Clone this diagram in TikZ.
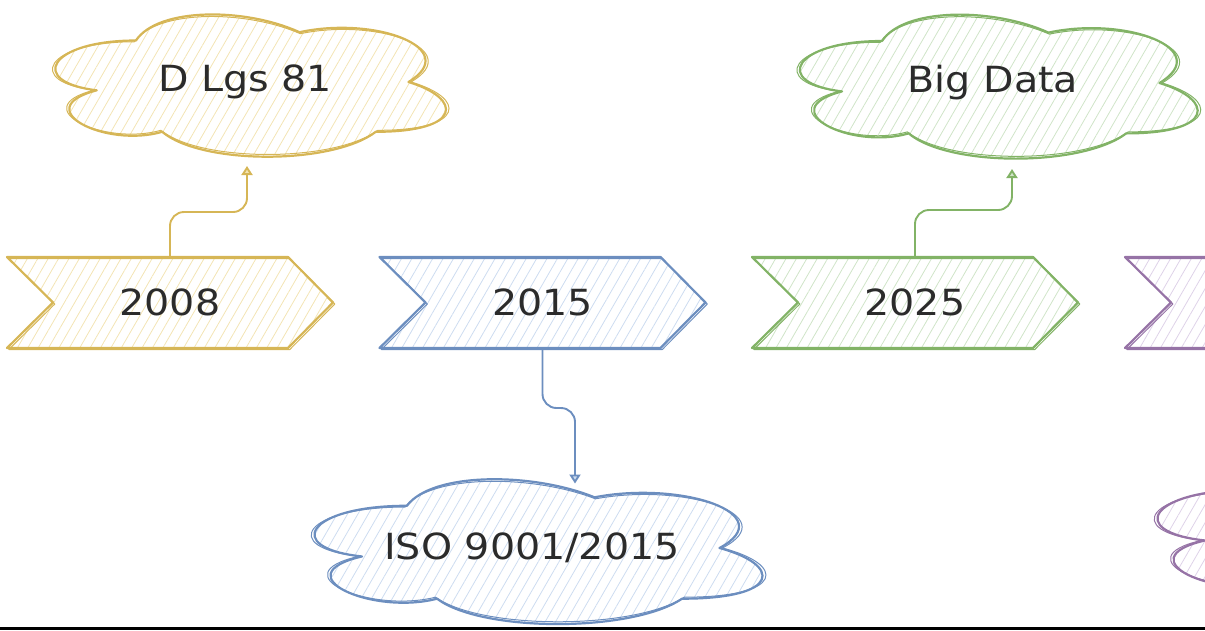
\documentclass[tikz,border=0pt]{standalone}
\usepackage{fontspec}
\newfontfamily\hand[FakeStretch=1.1]{DejaVu Sans}
\usetikzlibrary{arrows.meta,patterns.meta,backgrounds}
\definecolor{ink}{HTML}{2B2B2B}
\definecolor{yelline}{RGB}{214,182,86}
\definecolor{yelfill}{RGB}{243,228,180}
\definecolor{bluline}{RGB}{108,142,191}
\definecolor{blufill}{RGB}{205,220,240}
\definecolor{grnline}{RGB}{130,179,102}
\definecolor{grnfill}{RGB}{208,228,200}
\definecolor{purline}{RGB}{150,115,166}
\definecolor{purfill}{RGB}{222,210,232}
\tikzset{
 labeltext/.style={font={\hand\fontsize{36pt}{40pt}\selectfont}, text=ink},
 chevnode/.style={labeltext, minimum width=326pt, minimum height=91pt, inner sep=0pt, outer sep=0pt},
 cloudnode/.style={labeltext, inner sep=0pt, outer sep=0pt},
 hatch/.style={pattern={Lines[angle=60,distance=9pt,line width=0.8pt]}, pattern color=#1},
 chevpath/.style={insert path={(#1.north west) -- ([xshift=-45pt]#1.north east) -- (#1.east) -- ([xshift=-45pt]#1.south east) -- (#1.south west) -- ([xshift=46pt]#1.west) -- cycle}},
 cloudpath/.style={insert path={(-0.25,-0.25) .. controls (-0.45,-0.25) and (-0.5,0) .. (-0.34,0.05)
   .. controls (-0.5,0.16) and (-0.32,0.4) .. (-0.19,0.3)
   .. controls (-0.1,0.5) and (0.2,0.5) .. (0.3,0.3)
   .. controls (0.5,0.3) and (0.5,0.1) .. (0.375,0)
   .. controls (0.5,-0.2) and (0.3,-0.4) .. (0.125,-0.3)
   .. controls (0,-0.45) and (-0.2,-0.45) .. (-0.25,-0.25) -- cycle}},
 outline/.style={draw=#1, line width=2.2pt, line join=round},
 sketch/.style={draw=#1, line width=1pt, line join=round},
 link/.style={draw=#1line, line width=1.9pt, rounded corners=14pt, -{Triangle[length=9pt,width=11pt,fill=#1fill]}},
}
\newcommand\mychev[4]{%
  \node[chevnode] (#1) at (#2,302.5) {#4};
  \begin{scope}[on background layer]
    \path[hatch=#3fill, chevpath=#1];
    \draw[outline=#3line, chevpath=#1];
    \draw[sketch=#3line, transform canvas={xshift=1.8pt,yshift=-1.5pt}, chevpath=#1];
  \end{scope}}
\newcommand\mycloud[7]{%
  \node[cloudnode, minimum width=#4pt, minimum height=#5pt] (#1) at (#2,#3) {#7};
  \begin{scope}[on background layer, shift={(#2,#3)}, x=#4pt, y=-#5pt]
    \path[hatch=#6fill, cloudpath];
    \draw[outline=#6line, cloudpath];
    \draw[sketch=#6line, xscale=1.015, yscale=0.97, cloudpath];
  \end{scope}}
\begin{document}
\begin{tikzpicture}[x=1pt,y=-1pt]
\useasboundingbox (0,0) rectangle (1205,630);
\mychev{y1}{170}{yel}{2008}
\mychev{y2}{542.5}{blu}{2015}
\mychev{y3}{915}{grn}{2025}
\mychev{y4}{1288}{pur}{}
\mycloud{c1}{245}{82}{436}{166}{yel}{D Lgs 81}
\mycloud{c2}{532}{548}{500}{169}{blu}{ISO 9001/2015}
\mycloud{c3}{993}{83}{444}{168}{grn}{Big Data}
\mycloud{c4}{1375}{532}{500}{169}{pur}{}
\draw[link=yel] (y1.north) -- ++(0,-45) -| ([xshift=2pt,yshift=-1pt]c1.south);
\draw[link=blu] (y2.south) -- ++(0,60) -| ([xshift=43pt,yshift=-20pt]c2.north);
\draw[link=grn] (y3.north) -- ++(0,-47) -| ([xshift=19pt,yshift=-2pt]c3.south);
\draw[line width=3pt] (0,628.5) -- (1205,628.5);
\end{tikzpicture}
\end{document}
